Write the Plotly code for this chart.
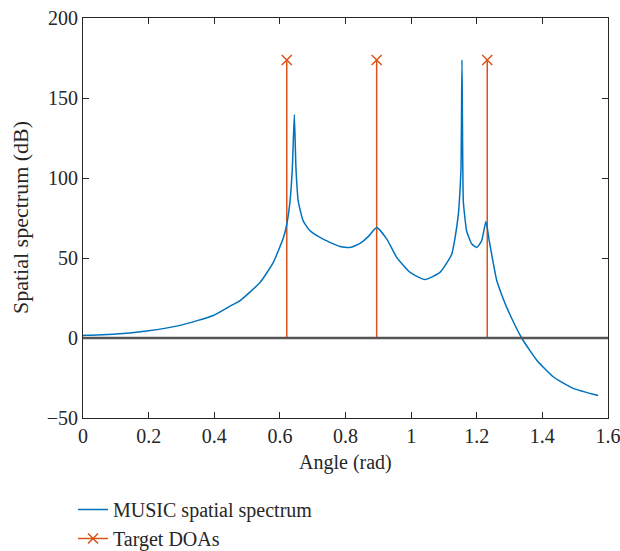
import plotly.graph_objects as go

# MUSIC spatial spectrum
angle = [0.000, 0.006, 0.092, 0.194, 0.296, 0.397, 0.448, 0.479, 0.540, 0.580, 0.611, 0.621,
         0.631, 0.638, 0.644, 0.649, 0.656, 0.671, 0.692, 0.732, 0.783, 0.814, 0.844, 0.870,
         0.895, 0.926, 0.956, 0.997, 1.042, 1.088, 1.113, 1.124, 1.134, 1.144, 1.147, 1.152,
         1.155, 1.159, 1.164, 1.169, 1.185, 1.200, 1.215, 1.228, 1.238, 1.249, 1.261, 1.276,
         1.291, 1.337, 1.383, 1.433, 1.494, 1.570]
spectrum = [1.5, 1.7, 2.3, 4.4, 7.9, 14.1, 19.9, 23.4, 34.8, 47.3, 62.8, 71.1,
            85.6, 106.3, 139.6, 106.3, 85.6, 73.2, 67.0, 61.8, 57.2, 56.6, 59.1, 63.5,
            69.0, 61.8, 50.4, 41.0, 36.5, 41.0, 48.3, 52.5, 62.8, 77.4, 85.6, 106.3,
            173.8, 85.6, 75.0, 67.0, 58.7, 56.6, 60.8, 72.8, 60.8, 48.3, 35.9, 27.0,
            19.3, 0.0, -13.9, -24.2, -31.5, -36.0]

# Target DOAs (stems)
doa = [0.621, 0.895, 1.232]
doa_height = [173.8, 173.8, 173.8]

x_ticks = [0, 0.2, 0.4, 0.6, 0.8, 1, 1.2, 1.4, 1.6]
x_tick_text = ["0", "0.2", "0.4", "0.6", "0.8", "1", "1.2", "1.4", "1.6"]
y_ticks = [-50, 0, 50, 100, 150, 200]
y_tick_text = ["\u221250", "0", "50", "100", "150", "200"]
x_title = "Angle (rad)"
y_title = "Spatial spectrum (dB)"

BLUE = "#0072BD"
RED = "#D95319"
FONT = "Liberation Serif"
FS = 20
TXT = "#262626"

W, H = 620, 551
ML, MR, MT, MB = 83, 12, 18, 133

fig = go.Figure()

# stems
sx, sy = [], []
for a, h in zip(doa, doa_height):
    sx += [a, a, None]
    sy += [0, h, None]
fig.add_trace(go.Scatter(x=sx, y=sy, mode="lines", line=dict(color=RED, width=1.5),
                         showlegend=False, hoverinfo="skip"))
fig.add_trace(go.Scatter(x=doa, y=doa_height, mode="markers",
                         marker=dict(symbol="x-thin", size=10, line=dict(color=RED, width=1.5)),
                         showlegend=False))

fig.add_trace(go.Scatter(x=angle, y=spectrum, mode="lines", name="MUSIC spatial spectrum",
                         line=dict(color=BLUE, width=1.5, shape="spline", smoothing=0.5)))
# legend entry for stems
fig.add_trace(go.Scatter(x=[None], y=[None], mode="lines+markers", name="Target DOAs",
                         line=dict(color=RED, width=1.5),
                         marker=dict(symbol="x-thin", size=10, line=dict(color=RED, width=1.5))))

fig.add_hline(y=0, line=dict(color="#555555", width=2.5), layer="above")

axis_common = dict(showgrid=False, zeroline=False, showline=True, linecolor=TXT,
                   linewidth=1, mirror="ticks", ticks="inside", ticklen=6, tickcolor=TXT,
                   automargin=False, ticklabeloverflow="allow",
                   tickfont=dict(family=FONT, size=FS, color=TXT))

fig.update_layout(
    width=W, height=H,
    margin=dict(l=ML, r=MR, t=MT, b=MB, autoexpand=False),
    paper_bgcolor="white", plot_bgcolor="white",
    font=dict(family=FONT, size=FS, color=TXT),
    xaxis=dict(range=[0, 1.6], tickvals=x_ticks, ticktext=x_tick_text, **axis_common),
    yaxis=dict(range=[-50, 200], tickvals=y_ticks, ticktext=y_tick_text, **axis_common),
    legend=dict(x=73 / W, y=1 - 490 / H, xref="container", yref="container",
                xanchor="left", yanchor="top", bgcolor="rgba(0,0,0,0)",
                font=dict(family=FONT, size=20, color=TXT), itemwidth=30,
                tracegroupgap=0),
    showlegend=True,
    annotations=[
        dict(text=x_title, xref="paper", yref="paper", x=0.5, y=0, xanchor="center",
             yanchor="middle", yshift=-44, showarrow=False,
             font=dict(family=FONT, size=FS, color=TXT)),
        dict(text=y_title, xref="paper", yref="paper", x=0, y=0.5, xanchor="center",
             yanchor="middle", xshift=-63, textangle=-90, showarrow=False,
             font=dict(family=FONT, size=22, color=TXT)),
    ],
)

fig.write_html("out.html", config={"displayModeBar": False},
               post_script="document.body.style.margin='0px';document.body.style.overflow='hidden';")
